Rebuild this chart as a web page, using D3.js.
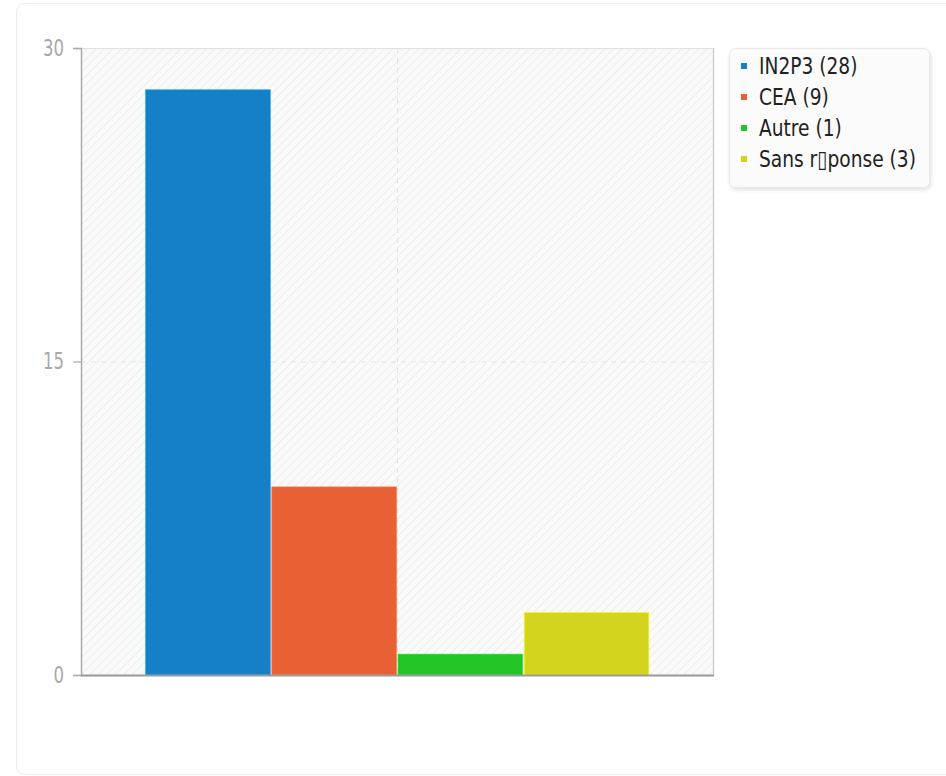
<!DOCTYPE html>
<html><head><meta charset="utf-8">
<script src="https://cdn.jsdelivr.net/npm/d3@7"></script>
<style>
body{margin:0;background:#fff;}
svg{font-family:"DejaVu Sans",sans-serif;}
</style></head>
<body><svg id="c" width="946" height="776"></svg>
<script>
const categories = ["IN2P3", "CEA", "Autre", "Sans r\u25AFponse"];
const values = [28, 9, 1, 3];
const colors = ["#1580c8", "#e86135", "#22c525", "#d3d41d"];
const yTicks = [0, 15, 30];

const svg = d3.select("#c");
const defs = svg.append("defs");
const pat = defs.append("pattern").attr("id","hatch").attr("patternUnits","userSpaceOnUse")
  .attr("width",6).attr("height",6).attr("patternTransform","rotate(45)");
pat.append("rect").attr("width",6).attr("height",6).attr("fill","#fafafa");
pat.append("line").attr("x1",0).attr("y1",0).attr("x2",0).attr("y2",6).attr("stroke","#ececec").attr("stroke-width",2);
const flt = defs.append("filter").attr("id","sh").attr("x","-10%").attr("y","-10%").attr("width","130%").attr("height","130%");
flt.append("feDropShadow").attr("dx",1).attr("dy",2).attr("stdDeviation",2).attr("flood-color","#000").attr("flood-opacity",0.12);

// card
svg.append("rect").attr("x",16.5).attr("y",3.5).attr("width",960).attr("height",771).attr("rx",8)
  .attr("fill","#fff").attr("stroke","#ececec");

const m = {l:81, r:714, t:48, b:675};
const y = d3.scaleLinear().domain([0,30]).range([m.b, m.t]);
const x0 = d3.scaleBand().domain(["g"]).range([m.l, m.r]).paddingInner(0).paddingOuter(0.127);
const x1 = d3.scaleBand().domain(categories).range([x0("g"), x0("g")+x0.bandwidth()]).padding(0);

svg.append("rect").attr("x",m.l).attr("y",m.t).attr("width",m.r-m.l).attr("height",m.b-m.t).attr("fill","url(#hatch)");
svg.append("line").attr("x1",m.l).attr("x2",m.r).attr("y1",m.t+0.5).attr("y2",m.t+0.5).attr("stroke","#e0e0e0");
svg.append("line").attr("x1",m.r-0.5).attr("x2",m.r-0.5).attr("y1",m.t).attr("y2",m.b).attr("stroke","#cfcfcf").attr("stroke-width",1.5);

// grid
svg.append("line").attr("x1",m.l).attr("x2",m.r).attr("y1",y(15)+0.5).attr("y2",y(15)+0.5)
  .attr("stroke","#e2e2e2").attr("stroke-dasharray","5,5");
const cx = x0("g")+x0.bandwidth()/2;
svg.append("line").attr("x1",cx).attr("x2",cx).attr("y1",m.t).attr("y2",m.b)
  .attr("stroke","#e2e2e2").attr("stroke-dasharray","5,5");

// bars
svg.selectAll("rect.bar").data(values).enter().append("rect").attr("class","bar")
  .attr("x",(d,i)=>x1(categories[i])+0.5).attr("width",x1.bandwidth()-1.5)
  .attr("y",d=>y(d)).attr("height",d=>m.b-y(d))
  .attr("fill",(d,i)=>colors[i]).attr("stroke",(d,i)=>d3.color(colors[i]).brighter(0.6)).attr("stroke-width",0.6);

// axes
const ya = d3.axisLeft(y).tickValues(yTicks).tickSize(8).tickPadding(6);
const gy = svg.append("g").attr("transform",`translate(${m.l},0)`).call(ya);
gy.select(".domain").attr("stroke","#aaa").attr("stroke-width",1.5);
gy.selectAll(".tick line").attr("stroke","#aaa").attr("stroke-width",1.2);
gy.selectAll("text").attr("fill","#a8a8a8").attr("x",0)
  .attr("transform","translate(-17,0) scale(0.72,1)")
  .style("font-size","23px").style("font-family","'DejaVu Sans',sans-serif");
svg.append("line").attr("x1",m.l).attr("x2",m.r).attr("y1",m.b+0.5).attr("y2",m.b+0.5).attr("stroke","#999").attr("stroke-width",1.8);

// legend
const lg = svg.append("g");
lg.append("rect").attr("x",729.5).attr("y",48.5).attr("width",200).attr("height",139).attr("rx",6)
  .attr("fill","#fbfbfb").attr("stroke","#e8e8e8").attr("filter","url(#sh)");
categories.forEach((c,i)=>{
  const yy = 66 + i*31;
  lg.append("rect").attr("x",741).attr("y",yy-3).attr("width",6).attr("height",6).attr("fill",colors[i]);
  lg.append("text").attr("transform",`translate(759,${yy+8}) scale(0.81,1)`)
    .attr("fill","#222").style("font-size","23px")
    .text(`${c} (${values[i]})`);
});
</script></body></html>
